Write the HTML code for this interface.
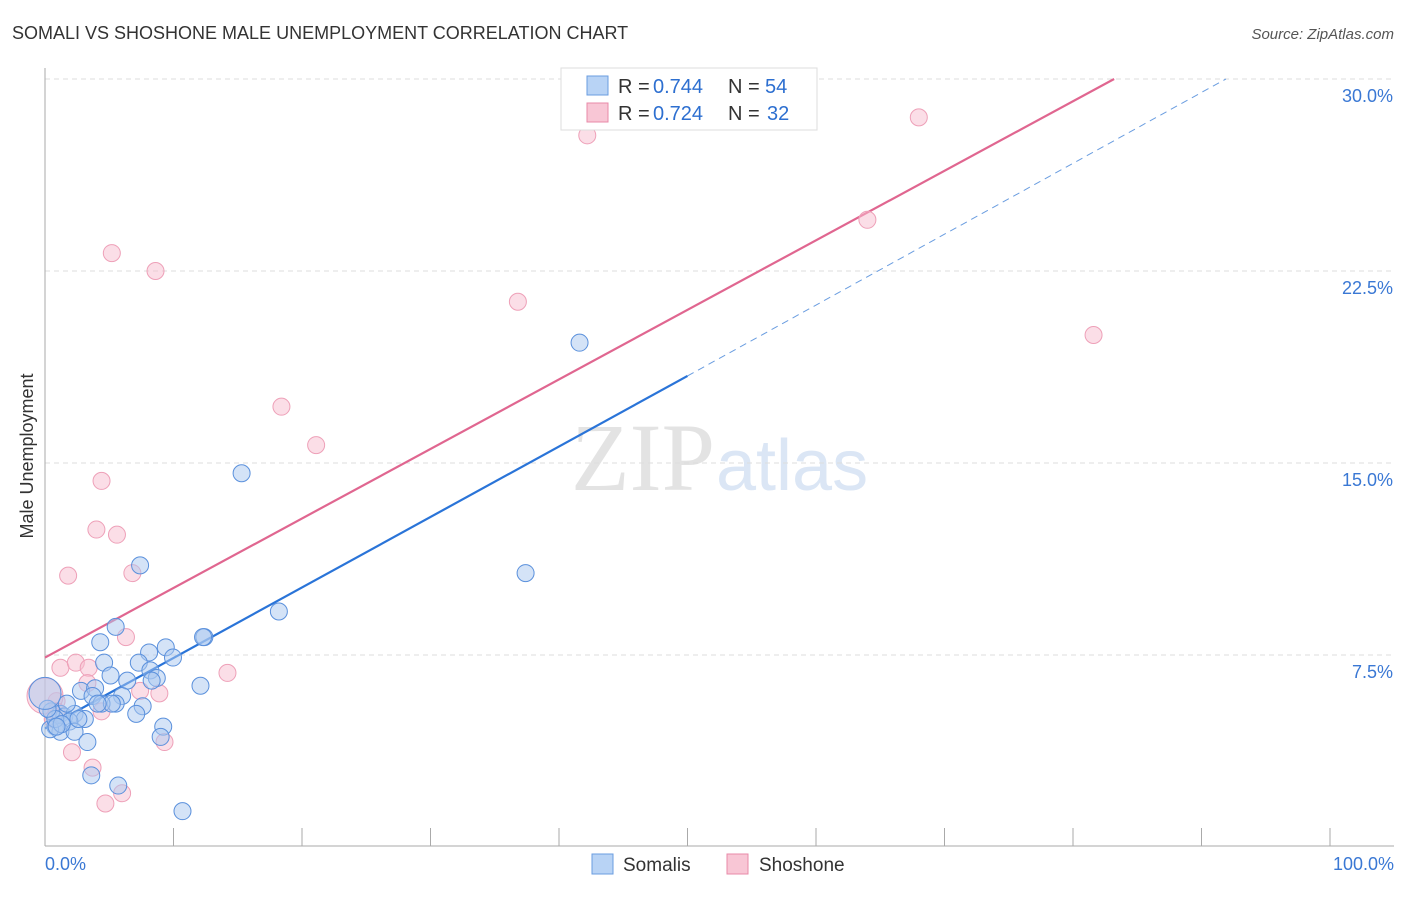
<!DOCTYPE html>
<html><head><meta charset="utf-8"><style>
body{margin:0;background:#fff;font-family:"Liberation Sans",sans-serif;}
</style></head><body>
<svg width="1406" height="892" xmlns="http://www.w3.org/2000/svg" font-family="Liberation Sans, sans-serif">
<text x="12" y="39" font-size="18" fill="#333">SOMALI VS SHOSHONE MALE UNEMPLOYMENT CORRELATION CHART</text>
<text x="1394" y="39" font-size="15" fill="#555" text-anchor="end" font-style="italic">Source: ZipAtlas.com</text>
<text x="33" y="456" font-size="18" fill="#333" transform="rotate(-90 33 456)" text-anchor="middle">Male Unemployment</text>
<text x="715" y="490" font-size="96" fill="#e3e3e3" text-anchor="end" font-family="Liberation Serif, serif">ZIP</text>
<text x="716" y="490" font-size="72" fill="#dbe6f5">atlas</text>
<g id="grid"></g><g id="axes"></g><g id="lines"></g><g id="pts"></g>
<g>
<rect x="561" y="68" width="256" height="62" fill="#fff" stroke="#ddd"/>
<rect x="587" y="76" width="21" height="19" fill="#b8d3f5" stroke="#6a9de0"/>
<rect x="587" y="103" width="21" height="19" fill="#f8c6d5" stroke="#e88aa8"/>
<g font-size="20">
<text x="618" y="93" fill="#333">R =</text><text x="653" y="93" fill="#2d6fd0">0.744</text>
<text x="728" y="93" fill="#333">N =</text><text x="765" y="93" fill="#2d6fd0">54</text></g>
<g font-size="20">
<text x="618" y="120" fill="#333">R =</text><text x="653" y="120" fill="#2d6fd0">0.724</text>
<text x="728" y="120" fill="#333">N =</text><text x="767" y="120" fill="#2d6fd0">32</text></g>
</g>
<g>
<rect x="592" y="854" width="21" height="20" fill="#b8d3f5" stroke="#6a9de0"/>
<text x="623" y="871" font-size="19" fill="#333">Somalis</text>
<rect x="727" y="854" width="21" height="20" fill="#f8c6d5" stroke="#e88aa8"/>
<text x="759" y="871" font-size="19" fill="#333">Shoshone</text>
</g>
</svg>
<script>
const yTicks=[7.5,15,22.5,30];
const yTickLabels=["7.5%","15.0%","22.5%","30.0%"];
const xTickLabels=["0.0%","100.0%"];
const somaliX=[41.6,15.3,37.4,7.4,18.2,12.4,12.3,5.5,4.3,9.4,8.1,9.96,4.6,7.3,8.2,5.1,8.7,8.3,6.4,12.1,2.8,3.9,3.7,6.0,7.6,5.5,4.4,5.2,7.1,9.2,9.0,1.2,1.5,2.3,3.1,1.9,0.5,0.8,1.2,2.3,3.3,0.4,3.6,5.7,10.7,1.7,0.8,0.2,4.1,2.6,1.3,0.9,0.0];
const somaliY=[19.7,14.6,10.7,11.0,9.2,8.2,8.2,8.6,8.0,7.8,7.6,7.4,7.2,7.2,6.9,6.7,6.6,6.5,6.5,6.3,6.1,6.2,5.9,5.9,5.5,5.6,5.6,5.6,5.2,4.7,4.3,5.2,5.1,5.2,5.0,4.9,5.3,4.7,4.5,4.5,4.1,4.6,2.8,2.4,1.4,5.6,5.0,5.4,5.6,5.0,4.8,4.7,6.0];
const shoshoneX=[42.2,68.0,64.0,81.6,36.8,5.2,8.6,18.4,21.1,4.4,4.0,5.6,1.8,6.8,6.3,14.2,1.2,2.4,3.4,3.3,8.9,0.9,0.0,4.4,0.6,2.1,3.7,6.0,4.7,9.3,0.9,7.4];
const shoshoneY=[27.8,28.5,24.5,20.0,21.3,23.2,22.5,17.2,15.7,14.3,12.4,12.2,10.6,10.7,8.2,6.8,7.0,7.2,7.0,6.4,6.0,5.7,5.9,5.3,5.0,3.7,3.1,2.1,1.7,4.1,5.3,6.1];
const blueLine=[0,4.63,50,18.4,91.9,30];
const pinkLine=[0,7.4,83.2,30];
const X=v=>45+v*12.85, Y=v=>847-v*25.6;
const NS="http://www.w3.org/2000/svg";
function mk(p,t,a){const e=document.createElementNS(NS,t);for(const k in a)e.setAttribute(k,a[k]);document.getElementById(p).appendChild(e);return e;}
yTicks.forEach((t,i)=>{
 const g=mk('grid','line',{x1:45,x2:1394,y1:Y(t),y2:Y(t),stroke:'#ddd','stroke-dasharray':'5,4'});
 
 
 const l=mk('grid','text',{x:1393,y:Y(t)+23,'font-size':18,fill:'#3a78d4','text-anchor':'end'});l.textContent=yTickLabels[i];
 
 
});
const ya=mk('axes','line',{x1:45,x2:45,y1:68,y2:846,stroke:'#aaa'});


const xa=mk('axes','line',{x1:45,x2:1394,y1:846,y2:846,stroke:'#aaa'});


for(let i=0;i<=10;i++){const t=mk('axes','line',{x1:X(i*10),x2:X(i*10),y1:828,y2:846,stroke:'#aaa'});
 
 }
[[45,'start'],[1394,'end']].forEach((d,i)=>{const t=mk('axes','text',{x:d[0],y:870,'font-size':18,fill:'#3a78d4','text-anchor':d[1]});t.textContent=xTickLabels[i];
 
 });
const bl=mk('lines','line',{x1:X(blueLine[0]),y1:Y(blueLine[1]),x2:X(blueLine[2]),y2:Y(blueLine[3]),stroke:'#2a74d8','stroke-width':2.2});


const bd=mk('lines','line',{x1:X(blueLine[2]),y1:Y(blueLine[3]),x2:X(blueLine[4]),y2:Y(blueLine[5]),stroke:'#6a9de0','stroke-width':1,'stroke-dasharray':'7,5'});


const pl=mk('lines','line',{x1:X(pinkLine[0]),y1:Y(pinkLine[1]),x2:X(pinkLine[2]),y2:Y(pinkLine[3]),stroke:'#e06690','stroke-width':2.2});


shoshoneX.forEach((x,i)=>{const c=mk('pts','circle',{cx:X(x),cy:Y(shoshoneY[i]),r:(x==0?18:8.5),fill:'rgba(248,190,208,0.5)',stroke:'#eea0b8','stroke-width':1});
 
 });
somaliX.forEach((x,i)=>{const c=mk('pts','circle',{cx:X(x),cy:Y(somaliY[i]),r:(x==0?16:8.5),fill:'rgba(170,200,240,0.5)',stroke:'#5a90dc','stroke-width':1});
 
 });
</script>
</body></html>
